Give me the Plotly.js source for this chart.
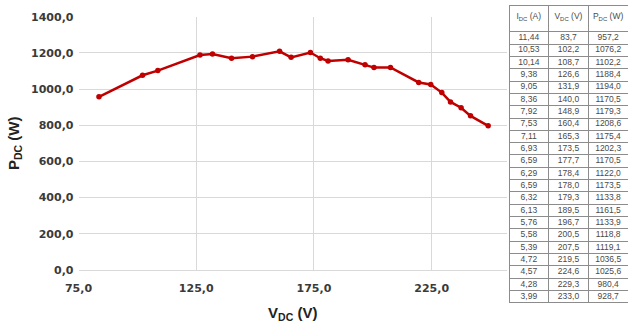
<!DOCTYPE html>
<html><head><meta charset="utf-8">
<script src="https://cdn.plot.ly/plotly-3.0.1.min.js"></script>
<style>html,body{margin:0;padding:0;background:#fff}#c{width:628px;height:323px}</style>
</head><body><div id="c"></div>
<script>
// chart series
const vdc = [83.7,102.2,108.7,126.6,131.9,140.0,148.9,160.4,165.3,173.5,177.7,181.0,189.5,196.7,200.5,207.5,219.5,224.6,229.3,233.0,237.5,241.5,249.0];
const pdc = [957.2,1076.2,1102.2,1188.4,1194.0,1170.5,1179.3,1208.6,1175.4,1202.3,1170.5,1155.0,1161.5,1133.9,1118.8,1119.1,1036.5,1025.6,980.4,928.7,897.0,852.0,797.0];
// table columns
const tIdc = ["11,44","10,53","10,14","9,38","9,05","8,36","7,92","7,53","7,11","6,93","6,59","6,29","6,59","6,32","6,13","5,76","5,58","5,39","4,72","4,57","4,28","3,99"];
const tVdc = ["83,7","102,2","108,7","126,6","131,9","140,0","148,9","160,4","165,3","173,5","177,7","178,4","178,0","179,3","189,5","196,7","200,5","207,5","219,5","224,6","229,3","233,0"];
const tPdc = ["957,2","1076,2","1102,2","1188,4","1194,0","1170,5","1179,3","1208,6","1175,4","1202,3","1170,5","1122,0","1173,5","1133,8","1161,5","1133,9","1118,8","1119,1","1036,5","1025,6","980,4","928,7"];
const headers = ["I<sub>DC</sub>\u00a0(A)","V<sub>DC</sub>\u00a0(V)","P<sub>DC</sub>\u00a0(W)"];
const xTicks = [75,125,175,225];
const yTicks = [0,200,400,600,800,1000,1200,1400];

const W=628,H=323;
const rowH = (299-28)/tIdc.length;
const tblFont = {family:'Liberation Sans Narrow, Arial Narrow, Arial',size:8.5,color:'#4a4a4a'};
const traces = [
  {type:'scatter',mode:'lines+markers',x:vdc,y:pdc,
   line:{color:'#C00000',width:2.5},marker:{color:'#C00000',size:5.5},hoverinfo:'skip'},
  {type:'table',domain:{x:[509/W,1],y:[0,(H-5)/H]},columnwidth:[1,1,1],
   header:{values:headers,height:17,align:'center',
     line:{color:'#8c8c8c',width:1},fill:{color:'#ffffff'},font:tblFont},
   cells:{values:[tIdc,tVdc,tPdc],height:rowH,align:'center',
     line:{color:'#8c8c8c',width:1},fill:{color:'#ffffff'},font:tblFont}}
];
const tf = {family:'DejaVu Sans, Arial',size:11,color:'#3a3a3a',weight:'bold'};
const ttl = {family:'Liberation Sans, Arial',size:15,color:'#222',weight:'bold'};
const pad = '\u00a0'.repeat(13);
const layout = {
  width:W,height:H,margin:{l:0,r:0,t:0,b:0},showlegend:false,
  paper_bgcolor:'#fff',plot_bgcolor:'#fff',separators:', ',
  xaxis:{domain:[78.5/W,507/W],range:[75,257],tickvals:xTicks,tickformat:'.1f',
    showgrid:true,gridcolor:'#d9d9d9',gridwidth:1,zeroline:false,showline:true,linecolor:'#d9d9d9',
    ticks:'',ticklabelstandoff:8,tickfont:tf,automargin:false,
    title:{text:'V<sub>DC</sub> (V)',font:ttl,standoff:18}},
  yaxis:{domain:[(H-270)/H,(H-16.7)/H],range:[0,1400],tickvals:yTicks,tickformat:'.1f',
    showgrid:true,gridcolor:'#d9d9d9',gridwidth:1,zeroline:false,showline:false,
    ticks:'',ticklabelstandoff:4,tickfont:tf,automargin:false,
    title:{text:'P<sub>DC</sub> (W)'+pad,font:ttl,standoff:7}}
};
Plotly.newPlot('c',traces,layout,{displayModeBar:false,staticPlot:true}).then(function(){
  // Plotly's table uses a fixed 8px cell padding; pull the texts up to fit the short rows
  document.querySelectorAll('#c .cell-text-holder').forEach(function(g){
    const isHeader = (g.textContent||'').indexOf('(') >= 0;
    const t = g.getAttribute('transform')||'';
    const m = t.match(/translate\(\s*([-\d.e]+)[ ,]+([-\d.e]+)\s*\)/);
    if(m){ g.setAttribute('transform','translate('+m[1]+','+(parseFloat(m[2])-(isHeader?2:6))+')'); }
  });
});
</script></body></html>
